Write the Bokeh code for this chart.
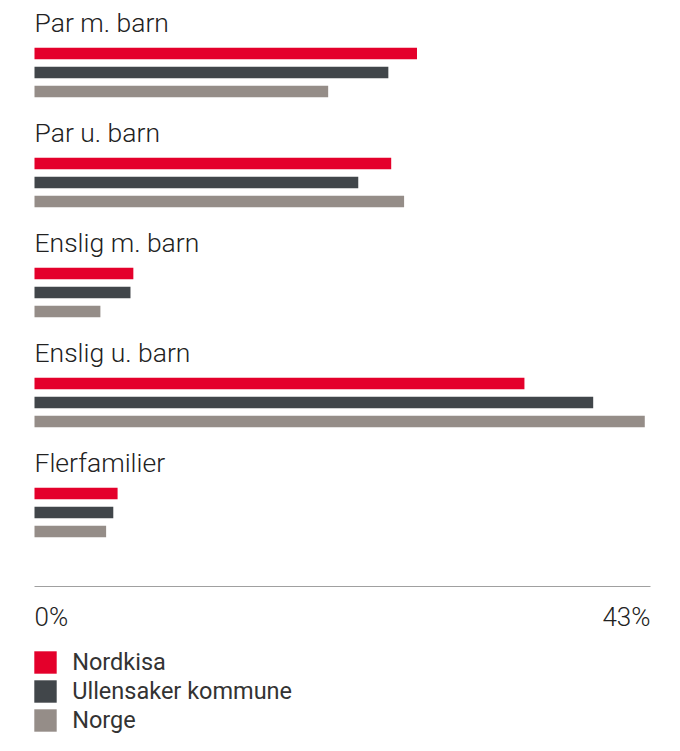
from bokeh.plotting import figure
from bokeh.models import Range1d, Legend, LegendItem
from bokeh.core.properties import value
from bokeh.embed import file_html
from bokeh.resources import INLINE

# ---- data ----
categories = ["Par m. barn", "Par u. barn", "Enslig m. barn", "Enslig u. barn", "Flerfamilier"]
series_names = ["Nordkisa", "Ullensaker kommune", "Norge"]
nordkisa = [26.7, 24.9, 6.9, 34.2, 5.8]
ullensaker = [24.7, 22.6, 6.7, 39.0, 5.5]
norge = [20.5, 25.8, 4.6, 42.6, 5.0]
axis_max = 43
tick_labels = ["0%", "43%"]

# ---- style / layout ----
colors = ["#E4002B", "#41464A", "#958D88"]
W, H = 664, 735
left_px, right_px = 34, 650           # x pixel of 0 and of axis_max
group_pitch, bar_pitch = 110, 19
first_bar_y, label_offset = 53, 31.5
bar_h = 11.5
axis_y = 586
tick_y = 616.5

ppu = (right_px - left_px) / axis_max
x_start = -left_px / ppu
x_end = axis_max + (W - right_px) / ppu

p = figure(width=W, height=H, output_backend="svg", toolbar_location=None,
           x_range=Range1d(x_start, x_end), y_range=Range1d(H, 0),
           min_border=0, outline_line_color=None)
p.axis.visible = False
p.grid.visible = False
p.background_fill_color = "white"
p.border_fill_color = "white"

series = [nordkisa, ullensaker, norge]
renderers = []
for j, (vals, col) in enumerate(zip(series, colors)):
    ys = [first_bar_y + i * group_pitch + j * bar_pitch for i in range(len(categories))]
    r = p.hbar(y=ys, left=0, right=vals, height=bar_h, fill_color=col, line_color=None)
    renderers.append(r)

label_y = [first_bar_y + i * group_pitch - label_offset for i in range(len(categories))]
p.text(x=[0] * len(categories), y=label_y, text=categories,
       text_font=value("Roboto Light, Roboto"), text_font_size="26.5px",
       text_color="#222222", text_baseline="alphabetic", text_align="left")

# axis line and end labels
p.segment(x0=[0], y0=[axis_y], x1=[axis_max], y1=[axis_y], line_color="#a0a0a0", line_width=1)
p.text(x=[0], y=[tick_y], text=[tick_labels[0]], text_font=value("Roboto Light, Roboto"),
       text_font_size="26px", text_color="#222222", text_baseline="alphabetic", text_align="left")
p.text(x=[axis_max], y=[tick_y], text=[tick_labels[1]], text_font=value("Roboto Light, Roboto"),
       text_font_size="26px", text_color="#222222", text_baseline="alphabetic", text_align="right")

legend = Legend(items=[LegendItem(label=n, renderers=[r]) for n, r in zip(series_names, renderers)],
                location=(31.2, 1), orientation="vertical",
                glyph_width=28, glyph_height=28, label_standoff=13, spacing=1,
                padding=0, margin=0, label_text_font="Roboto",
                label_text_font_size="23.5px", label_text_color="#333333",
                border_line_alpha=0, background_fill_alpha=0, label_height=28)
p.add_layout(legend)

open("out.html", "w").write(file_html(p, INLINE))
